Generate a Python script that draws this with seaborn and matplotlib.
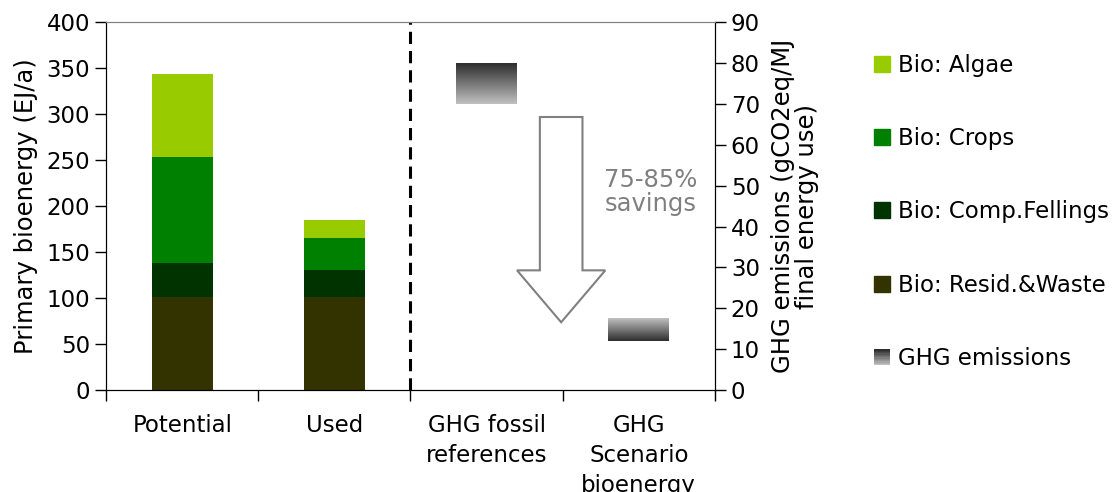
import numpy as np
import pandas as pd
import seaborn as sns
import matplotlib.pyplot as plt
from matplotlib.patches import Rectangle, Patch, FancyArrow
from matplotlib.legend_handler import HandlerBase
from matplotlib.colors import LinearSegmentedColormap

# data
categories = ['Potential', 'Used', 'GHG fossil\nreferences', 'GHG\nScenario\nbioenergy']
resid_waste = [101, 101, 0, 0]
comp_fellings = [37, 30, 0, 0]
crops = [115, 34, 0, 0]
algae = [91, 20, 0, 0]
ghg_low = [70, 12]       # gCO2eq/MJ
ghg_high = [80, 17.5]

layers = ['Bio: Resid.&Waste', 'Bio: Comp.Fellings', 'Bio: Crops', 'Bio: Algae']
colors = ['#333300', '#003300', '#008000', '#99cc00']

df = pd.DataFrame({'cat': categories, layers[0]: resid_waste, layers[1]: comp_fellings,
                   layers[2]: crops, layers[3]: algae})

sns.set_style('white')
plt.rcParams['font.family'] = ['DejaVu Sans']
plt.rcParams['text.color'] = 'black'
plt.rcParams['xtick.color'] = 'black'
plt.rcParams['ytick.color'] = 'black'
plt.rcParams['axes.labelcolor'] = 'black'
fs = 16.5

fig, ax = plt.subplots(figsize=(11.17, 4.92), dpi=100)
fig.subplots_adjust(left=0.095, right=0.640, top=0.955, bottom=0.207)

# stacked bars, tallest first so lower layers are drawn on top
cum = df[layers].cumsum(axis=1)
for name, col in reversed(list(zip(layers, colors))):
    sns.barplot(x=df['cat'], y=cum[name], order=categories, color=col,
                width=0.4, saturation=1, ax=ax, linewidth=0)

ax.set_xlim(-0.5, 3.5)
ax.set_ylim(0, 400)
ax.set_yticks(range(0, 401, 50))
ax.set_xlabel('')
ax.set_ylabel('Primary bioenergy (EJ/a)', fontsize=17.5, labelpad=6)
ax.tick_params(axis='y', labelsize=fs, length=8, width=1, direction='out', left=True)
ax.tick_params(axis='x', which='major', labelsize=fs, length=0, pad=17)
for lbl in ax.get_xticklabels():
    lbl.set_linespacing(1.4)
ax.set_xticks(np.arange(-0.5, 3.6, 1), minor=True)
ax.tick_params(axis='x', which='minor', length=8, width=1, direction='out', bottom=True)
for s in ['left', 'bottom', 'right']:
    ax.spines[s].set_color('black')
ax.spines['top'].set_color('#808080')

# divider
ax.axvline(1.5, color='black', lw=2.2, ls=(0, (4, 2.3)))

# GHG axis
ax2 = ax.twinx()
cmap = LinearSegmentedColormap.from_list('g', ['#2e2e2e', '#c0c0c0'])
grad = np.linspace(0, 1, 100).reshape(-1, 1)
ax2.imshow(grad, cmap=cmap, aspect='auto', extent=[2 - 0.2, 2 + 0.2, ghg_low[0], ghg_high[0]],
           origin='upper', zorder=2)
ax2.imshow(grad, cmap=cmap, aspect='auto', extent=[3 - 0.2, 3 + 0.2, ghg_low[1], ghg_high[1]],
           origin='lower', zorder=2)
ax2.set_xlim(-0.5, 3.5)
ax2.set_ylim(0, 90)
ax2.set_yticks(range(0, 91, 10))
ax2.tick_params(axis='y', labelsize=fs, length=8, width=1, direction='out', right=True)
ax2.set_ylabel('GHG emissions (gCO2eq/MJ\nfinal energy use)', fontsize=17.5, labelpad=8,
               linespacing=1.0)
for s in ['left', 'bottom', 'right']:
    ax2.spines[s].set_color('black')
ax2.spines['top'].set_color('#808080')

# savings arrow
ax2.add_patch(FancyArrow(2.49, 66.8, 0, 16.6 - 66.8, width=0.28, head_width=0.58,
                         head_length=12.7, length_includes_head=True,
                         fill=False, ec='#808080', lw=1.5))
ax2.text(3.08, 48.4, '75-85%\nsavings', color='#808080', fontsize=17.5, ha='center',
         va='center', linespacing=1.0)


class GradientHandler(HandlerBase):
    def create_artists(self, legend, orig, xd, yd, width, height, fontsize, trans):
        n = 12
        arts = []
        for i in range(n):
            r = Rectangle((xd, yd + height * (n - 1 - i) / n), width, height / n,
                          facecolor=cmap(i / (n - 1)), edgecolor='none', transform=trans)
            arts.append(r)
        return arts


handles = [Patch(color=c) for c in reversed(colors)]
ghg_handle = Patch(color='gray')
handles.append(ghg_handle)
labels = list(reversed(layers)) + ['GHG emissions']
fig.legend(handles, labels, loc='upper left', bbox_to_anchor=(0.764, 0.933), frameon=False,
           fontsize=fs, labelspacing=2.2, handlelength=0.7, handleheight=0.7,
           handletextpad=0.35, handler_map={ghg_handle: GradientHandler()})

plt.savefig('out.png', dpi=100)
